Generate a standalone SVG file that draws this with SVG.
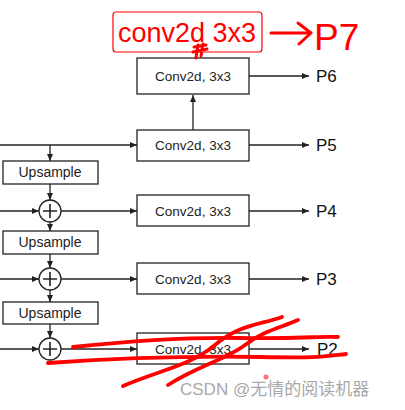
<svg xmlns="http://www.w3.org/2000/svg" width="405" height="410" viewBox="0 0 405 410">
<defs>
<marker id="ah" markerWidth="8" markerHeight="8" refX="7" refY="4" orient="auto" markerUnits="userSpaceOnUse">
<path d="M0,1 L7,4 L0,7 Z" fill="#222"/>
</marker>
<style>
.box{fill:#fff;stroke:#222;stroke-width:1.3}
.lbl{font-family:"Liberation Sans",Arial,sans-serif;font-size:13.5px;fill:#222;text-anchor:middle}
.p{font-family:"Liberation Sans",Arial,sans-serif;font-size:17px;fill:#111}
.ln{stroke:#222;stroke-width:1.3;fill:none}
.red{stroke:#f00;stroke-width:3.8;fill:none;stroke-linecap:round;stroke-linejoin:round}
</style>
</defs>
<rect width="405" height="410" fill="#fff"/>
<g id="connectors">
<line class="ln" x1="193" y1="130" x2="193" y2="95" marker-end="url(#ah)"/>
<line class="ln" x1="249" y1="76" x2="309" y2="76" marker-end="url(#ah)"/>
<line class="ln" x1="0" y1="145" x2="137" y2="145" marker-end="url(#ah)"/>
<line class="ln" x1="249" y1="145" x2="309" y2="145" marker-end="url(#ah)"/>
<line class="ln" x1="50" y1="145" x2="50" y2="161" marker-end="url(#ah)"/>
<line class="ln" x1="50" y1="184" x2="50" y2="200" marker-end="url(#ah)"/>
<line class="ln" x1="0" y1="211" x2="39" y2="211" marker-end="url(#ah)"/>
<line class="ln" x1="61" y1="211" x2="137" y2="211" marker-end="url(#ah)"/>
<line class="ln" x1="249" y1="211" x2="309" y2="211" marker-end="url(#ah)"/>
<line class="ln" x1="50" y1="222" x2="50" y2="231" marker-end="url(#ah)"/>
<line class="ln" x1="50" y1="254" x2="50" y2="268" marker-end="url(#ah)"/>
<line class="ln" x1="0" y1="279" x2="39" y2="279" marker-end="url(#ah)"/>
<line class="ln" x1="61" y1="279" x2="137" y2="279" marker-end="url(#ah)"/>
<line class="ln" x1="249" y1="279" x2="309" y2="279" marker-end="url(#ah)"/>
<line class="ln" x1="50" y1="290" x2="50" y2="302" marker-end="url(#ah)"/>
<line class="ln" x1="50" y1="324" x2="50" y2="338" marker-end="url(#ah)"/>
<line class="ln" x1="0" y1="349" x2="39" y2="349" marker-end="url(#ah)"/>
<line class="ln" x1="61" y1="349" x2="137" y2="349" marker-end="url(#ah)"/>
<line class="ln" x1="249" y1="349" x2="309" y2="349" marker-end="url(#ah)"/>
</g>
<g id="conv6"><rect class="box" x="137" y="58" width="112" height="36"/><text class="lbl" x="193" y="81">Conv2d, 3x3</text></g>
<g id="conv5"><rect class="box" x="137" y="130" width="112" height="31"/><text class="lbl" x="193" y="150">Conv2d, 3x3</text></g>
<g id="conv4"><rect class="box" x="137" y="195" width="112" height="31"/><text class="lbl" x="193" y="215.5">Conv2d, 3x3</text></g>
<g id="conv3"><rect class="box" x="137" y="263" width="112" height="31"/><text class="lbl" x="193" y="283.5">Conv2d, 3x3</text></g>
<g id="conv2"><rect class="box" x="137" y="333" width="112" height="31"/><text class="lbl" x="193" y="353.5">Conv2d, 3x3</text></g>
<g id="up1"><rect class="box" x="3" y="161" width="95" height="23"/><text class="lbl" x="50" y="177" style="font-size:14px">Upsample</text></g>
<g id="up2"><rect class="box" x="3" y="231" width="95" height="23"/><text class="lbl" x="50" y="247" style="font-size:14px">Upsample</text></g>
<g id="up3"><rect class="box" x="3" y="302" width="95" height="22"/><text class="lbl" x="50" y="318" style="font-size:14px">Upsample</text></g>
<g id="add1"><circle class="box" cx="50" cy="211" r="11"/><path class="ln" d="M43,211 H57 M50,204 V218" style="stroke-width:1.6"/></g>
<g id="add2"><circle class="box" cx="50" cy="279" r="11"/><path class="ln" d="M43,279 H57 M50,272 V286" style="stroke-width:1.6"/></g>
<g id="add3"><circle class="box" cx="50" cy="349" r="11"/><path class="ln" d="M43,349 H57 M50,342 V356" style="stroke-width:1.6"/></g>
<g id="outputs">
<text class="p" x="316" y="82">P6</text>
<text class="p" x="316" y="151">P5</text>
<text class="p" x="316" y="217">P4</text>
<text class="p" x="316" y="285">P3</text>
<text class="p" x="317" y="355">P2</text>
</g>
<g id="annotation">
<rect x="113" y="12" width="149" height="40" rx="3" fill="#fff" stroke="#f00" stroke-width="1.2"/>
<text x="187" y="42" text-anchor="middle" style="font-family:'Liberation Sans',Arial,sans-serif;font-size:27px;fill:#f00">conv2d 3x3</text>
<path class="red" d="M194,47 L206,45 M193,52 L207,49 M198,45 L196,58 M203,44 L201,56" style="stroke-width:3"/>
<path class="red" d="M271,33 L310,33 M298,23 L311,33 L299,44" style="stroke-width:3"/>
<text x="314" y="50" style="font-family:'Liberation Sans',Arial,sans-serif;font-size:37px;fill:#f00">P7</text>
</g>
<g id="scribbles">
<path class="red" d="M73,347 C120,342 180,337 240,338 S320,336 338,337"/>
<path class="red" d="M48,363 C120,358 200,356 260,357 S320,357 346,354"/>
<path class="red" d="M123,386 C160,370 190,366 215,345 S260,325 282,317"/>
<path class="red" d="M168,385 C200,365 225,360 245,345 S280,328 298,320"/>
<circle cx="266" cy="377" r="2.5" fill="#f33" opacity="0.7"/>
</g>
<text x="180" y="395" style="font-family:'Liberation Sans','Noto Sans CJK SC',sans-serif;font-size:17px;fill:#999;opacity:0.85">CSDN @无情的阅读机器</text>
</svg>
